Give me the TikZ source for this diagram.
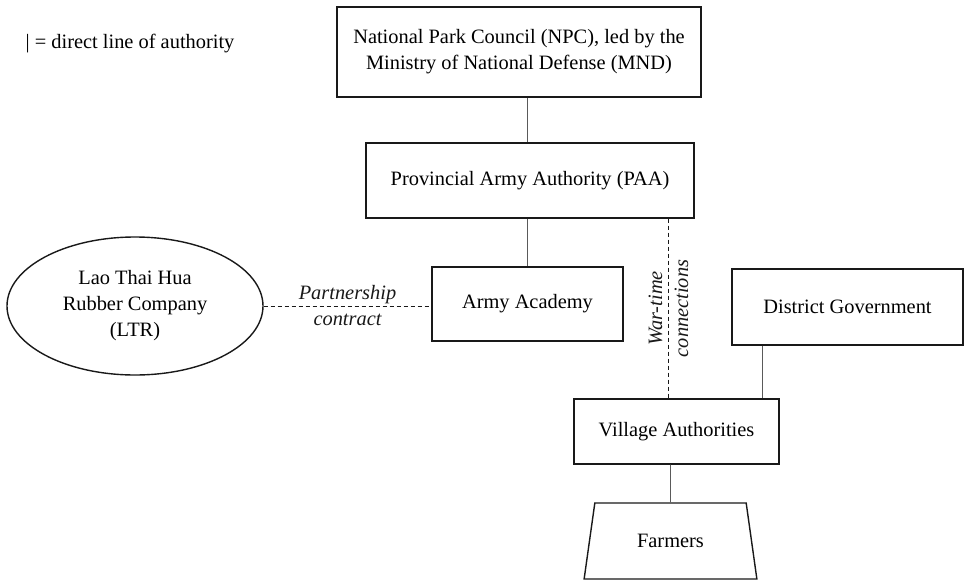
\documentclass[tikz,border=0pt]{standalone}
\usepackage{fontspec}
\setmainfont{Liberation Serif}
\usepackage{tikz}
\usetikzlibrary{shapes.geometric, positioning}
\definecolor{boxline}{RGB}{25,25,25}
\definecolor{authline}{RGB}{90,90,90}
\newcommand{\orgfont}{\fontsize{20.4}{26}\selectfont}
\tikzset{
  orgbox/.style={rectangle, draw=boxline, fill=white, align=center,
    line width=1.4pt, inner sep=4pt},
  rubber/.style={ellipse, draw=boxline, fill=white, align=center,
    line width=1.4pt, inner sep=2pt, minimum width=256pt, minimum height=138pt},
  farmbox/.style={trapezium, draw=boxline, fill=white, line width=1.4pt,
    trapezium stretches=true, trapezium angle=75.6,
    minimum width=173pt, minimum height=76pt},
  auth/.style={line width=0.7pt, color=authline},
  informal/.style={line width=1pt, color=boxline, dash pattern=on 4pt off 3pt},
  tag/.style={font=\orgfont\itshape, align=center, inner sep=1pt}
}

\begin{document}
\begin{tikzpicture}[x=1pt, y=-1pt, font=\orgfont]
  \useasboundingbox (0,0) rectangle (964,584);
  % Legend
  \node (key) at (130,44) {| = direct line of authority};
  % Boxes
  \node (npc) at (519,52) [orgbox, minimum width=364pt, minimum height=90pt]
    {National Park Council (NPC), led by the\\Ministry of National Defense (MND)};
  \node (paa) at (530,180.5) [orgbox, minimum width=328pt, minimum height=75pt]
    {Provincial Army Authority (PAA)};
  \node (aca) at (527.5,304) [orgbox, minimum width=191pt, minimum height=74pt]
    {Army Academy};
  \node (dis) at (847.5,307) [orgbox, minimum width=231pt, minimum height=76pt]
    {District Government};
  \node (vil) at (676.5,431.5) [orgbox, minimum width=205pt, minimum height=65pt]
    {Village Authorities};
  \node (far) at (670.5,541) [farmbox] {Farmers};
  \node (ltr) at (135,306) [rubber] {Lao Thai Hua\\Rubber Company\\(LTR)};
  % Lines of authority
  \draw[auth] (npc.south -| aca) -- (paa.north -| aca);
  \draw[auth] (paa.south -| aca) -- (aca.north);
  \draw[auth] ([xshift=31pt]dis.south west) coordinate (dgfoot) -- (dgfoot |- vil.north);
  \draw[auth] (vil.south -| far) -- (far.north);
  % Informal ties
  \draw[informal] (ltr.east) -- (ltr.east -| aca.west)
    node[midway, tag] {Partnership\\contract};
  \draw[informal] ([xshift=-2pt]paa.south -| far) -- ([xshift=-2pt]vil.north -| far)
    node[midway, tag, rotate=90] {War-time\\connections};
\end{tikzpicture}
\end{document}
